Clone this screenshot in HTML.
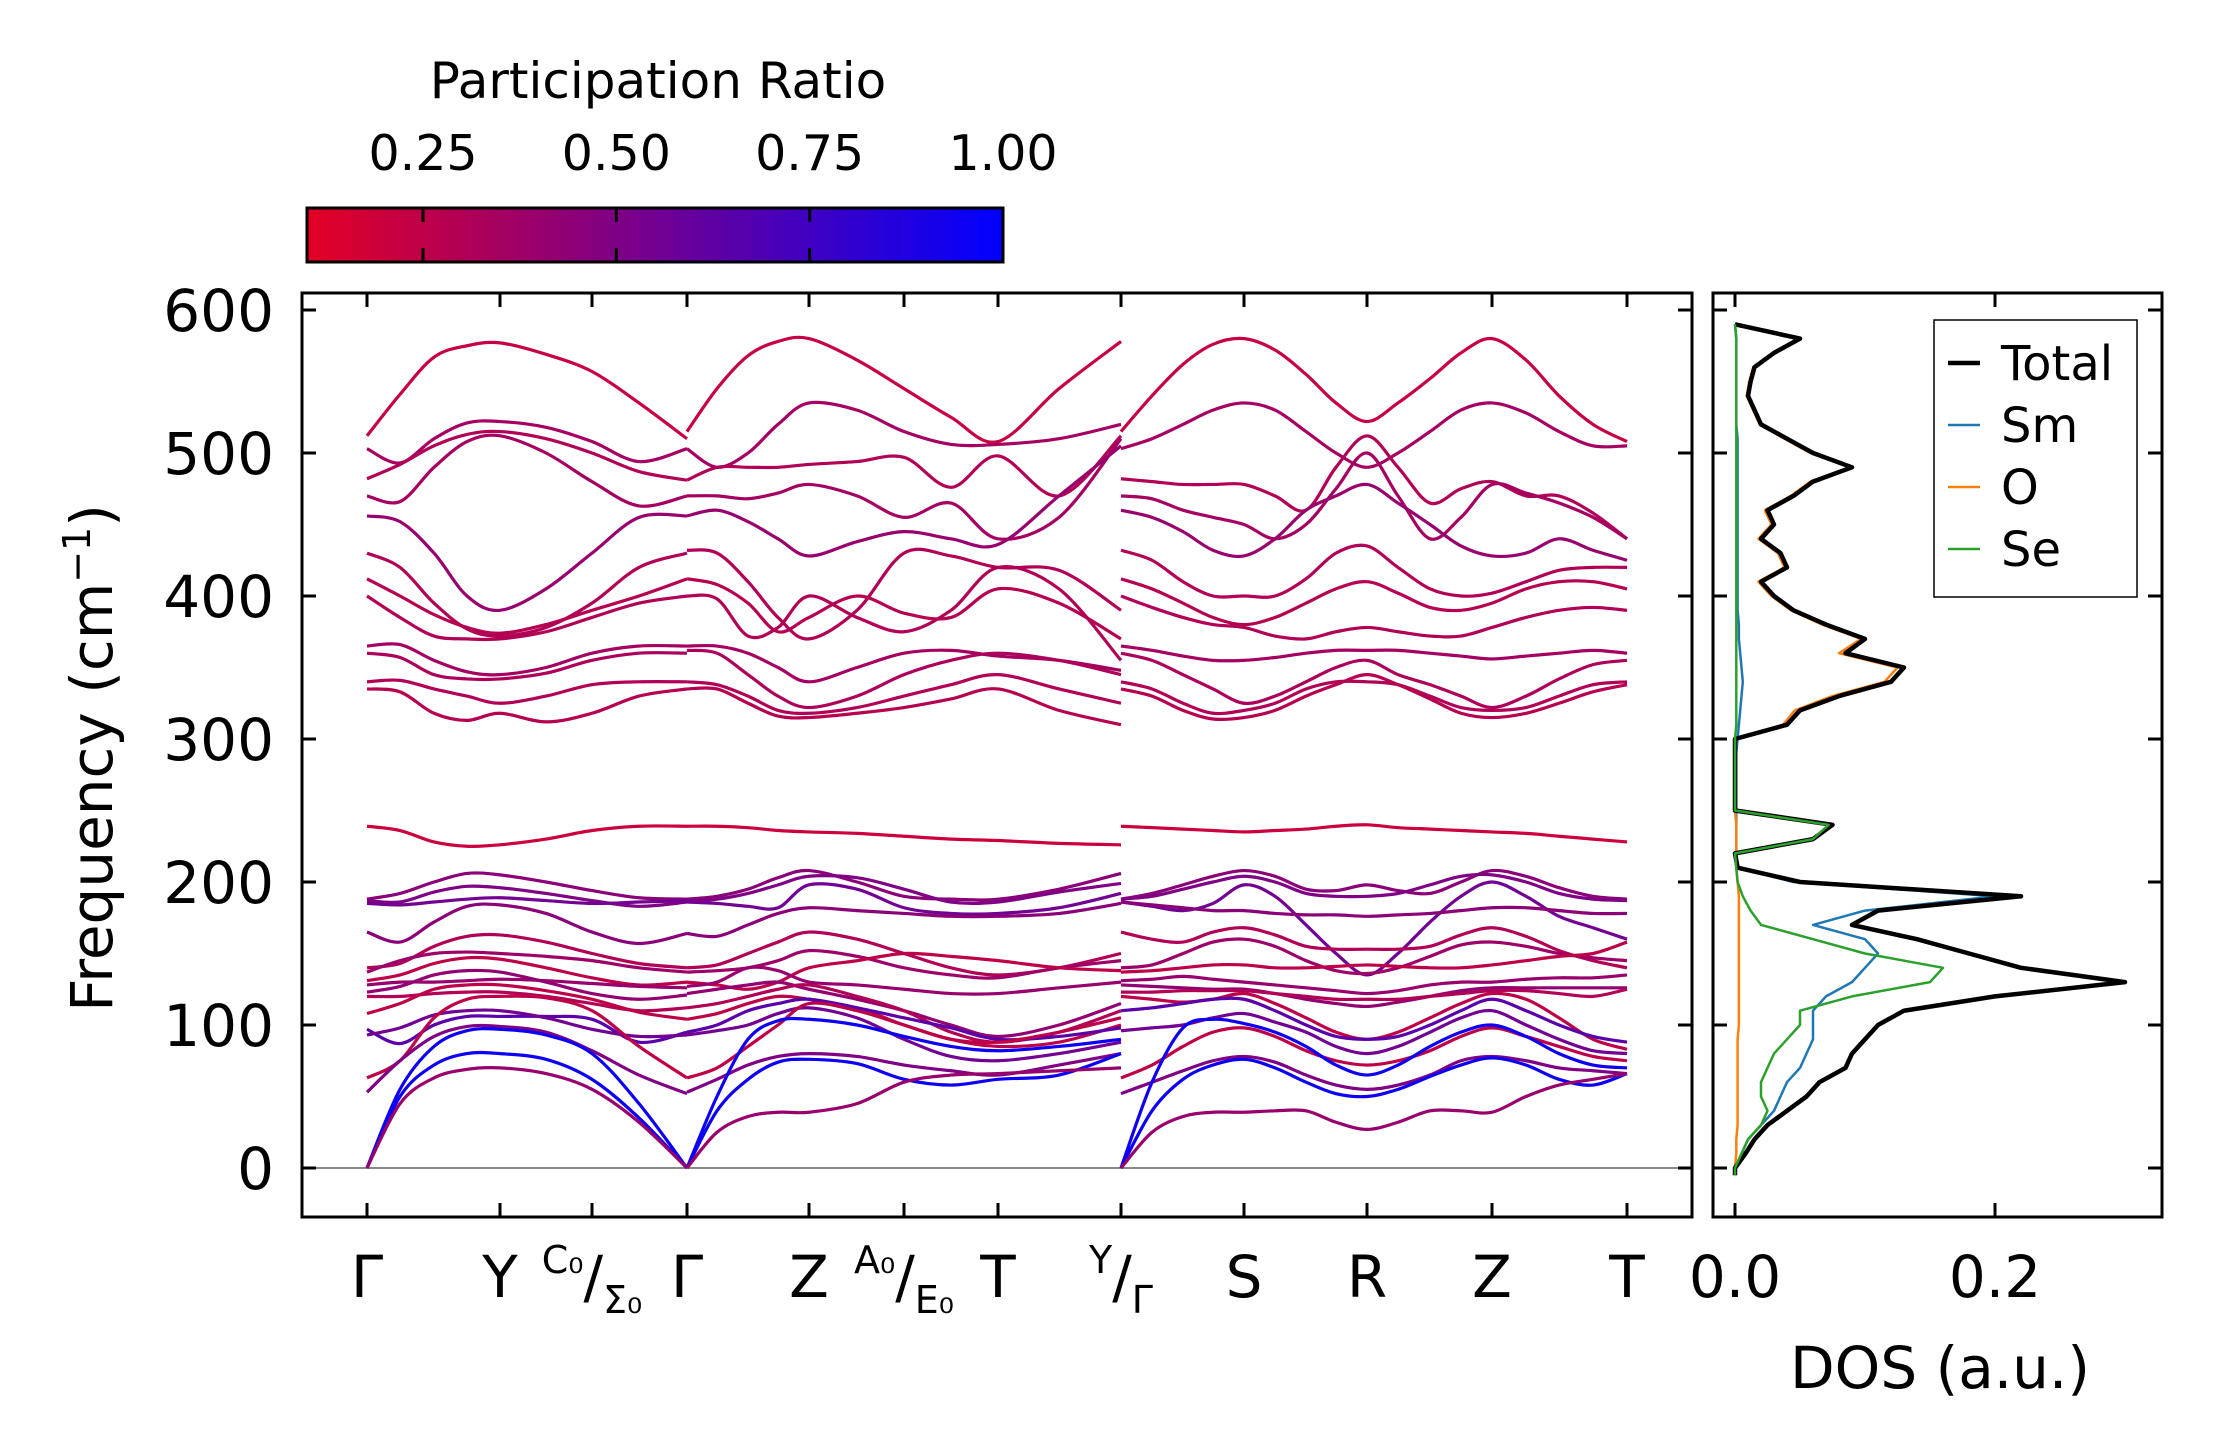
<!DOCTYPE html>
<html><head><meta charset="utf-8"><style>
html,body{margin:0;padding:0;background:#fff;}
svg{display:block;font-family:"DejaVu Sans","Liberation Sans",sans-serif;}
</style></head><body>
<svg id="fig" width="2222" height="1455" viewBox="0 0 2222 1455" xmlns="http://www.w3.org/2000/svg">
<defs><linearGradient id="cmap" x1="0" x2="1" y1="0" y2="0"><stop offset="0" stop-color="rgb(228,0,36)"/><stop offset="1" stop-color="rgb(0,0,255)"/></linearGradient>
<clipPath id="clipMain"><rect x="302" y="293" width="1390" height="924"/></clipPath>
<clipPath id="clipDos"><rect x="1713" y="293" width="449" height="924"/></clipPath></defs>
<g>
<text x="658" y="98" font-size="50" text-anchor="middle">Participation Ratio</text>
<rect x="307" y="208" width="696" height="54" fill="url(#cmap)" stroke="#000" stroke-width="3"/>
<g id="cbticks"></g>
</g>
<g id="mainAxes">
<line x1="302" x2="1692" y1="1168" y2="1168" stroke="#888" stroke-width="2"/>
<g id="bands" clip-path="url(#clipMain)"></g>
<rect x="302" y="293" width="1390" height="924" fill="none" stroke="#000" stroke-width="3"/>
<g id="mainTicks"></g>
<text transform="translate(112,758) rotate(-90)" font-size="58" text-anchor="middle">Frequency (cm<tspan font-size="38" dy="-22">−1</tspan><tspan dy="22">)</tspan></text>
</g>
<g id="dosAxes">
<g id="dosLines" clip-path="url(#clipDos)"></g>
<rect x="1713" y="293" width="449" height="924" fill="none" stroke="#000" stroke-width="3"/>
<g id="dosTicks"></g>
<text x="1940" y="1388" font-size="58" text-anchor="middle">DOS (a.u.)</text>
<g>
<rect x="1934" y="320" width="203" height="277" fill="#fff" stroke="#000" stroke-width="1.5"/>
<g id="legendEntries"></g>
</g>
</g>
</svg>
<script>
const NS="http://www.w3.org/2000/svg";
// ---- data ----
const cbTicks=[0.25,0.5,0.75,1.0];
const cbTickLabels=["0.25","0.50","0.75","1.00"];
const yTicks=[0,100,200,300,400,500,600];
const kTicks=[0,1.33,2.25,3.2,4.42,5.37,6.31,7.54,8.77,10.0,11.25,12.6];
const kLabels=["Γ","Y","C0/Σ0","Γ","Z","A0/E0","T","Y/Γ","S","R","Z","T"];
const kA=[0,0.33,0.67,1.0,1.33,1.79,2.25,2.72,3.2];
const kB=[3.2,3.5,3.81,4.11,4.42,4.9,5.37,5.84,6.31,6.92,7.54];
const kC=[7.54,7.85,8.16,8.46,8.77,9.08,9.39,9.69,10.0,10.31,10.63,10.94,11.25,11.59,11.92,12.26,12.6];
const bandsA=[
[512,541,567,575,577,569,557,535,510],
[503,493,510,521,522,518,508,494,503],
[482,492,505,513,515,510,500,487,481],
[470,466,490,508,512,500,480,463,470],
[456,452,430,400,390,405,430,455,456],
[430,420,395,377,372,378,395,420,430],
[412,400,387,378,374,380,390,400,412],
[400,385,372,370,370,375,385,395,400],
[365,366,355,347,345,350,360,365,365],
[360,357,345,342,342,346,355,360,360],
[340,341,335,330,325,330,338,340,340],
[335,333,318,313,318,312,318,330,335],
[239,236,228,225,226,230,236,239,239],
[188,192,200,206,205,200,194,189,188],
[187,186,193,197,196,192,187,183,186],
[185,184,186,188,189,187,185,186,187],
[165,158,172,183,184,178,165,157,164],
[140,143,155,162,163,158,150,143,140],
[137,145,150,151,150,148,145,140,137],
[131,135,143,147,146,140,133,128,130],
[128,130,130,131,132,131,129,127,126],
[123,127,135,138,137,130,122,118,121],
[120,120,122,123,123,120,115,110,112],
[108,115,125,128,128,124,118,109,104],
[97,87,100,106,106,106,104,88,95],
[93,98,107,110,110,105,97,92,93],
[63,75,105,118,120,119,110,85,63],
[53,75,92,99,99,95,82,65,52],
[0,55,85,96,97,93,80,45,0],
[0,50,72,80,80,76,62,35,0],
[0,45,63,69,70,66,55,32,0]];
const bandsB=[
[515,545,568,578,580,565,545,525,508,545,578],
[503,490,500,520,535,530,515,506,506,510,520],
[481,490,490,490,492,494,497,476,498,470,512],
[470,470,468,472,478,470,455,465,440,455,510],
[456,460,452,440,428,438,445,440,436,470,505],
[432,430,410,385,370,390,430,428,420,418,390],
[412,408,395,375,385,400,388,385,405,395,370],
[400,398,372,378,400,385,375,390,420,405,355],
[365,365,360,350,340,350,360,362,358,355,348],
[362,360,345,330,322,330,345,355,360,355,345],
[340,338,330,320,318,322,330,338,345,335,325],
[335,335,325,316,315,318,322,328,335,320,310],
[239,239,238,236,235,234,232,230,229,227,226],
[188,190,195,203,208,200,190,188,188,195,206],
[187,188,192,198,204,203,195,186,186,193,199],
[186,185,183,182,198,195,182,178,178,182,192],
[164,162,170,178,182,180,178,176,176,178,185],
[140,142,150,158,165,160,150,140,135,140,150],
[137,138,140,145,152,148,140,135,133,140,145],
[130,128,125,130,140,145,150,148,145,140,138],
[127,130,140,138,130,128,125,122,122,126,130],
[122,125,128,130,125,118,110,100,92,100,115],
[112,115,120,125,128,120,110,95,88,95,110],
[104,108,115,120,118,112,100,90,85,88,100],
[95,100,110,115,118,112,105,98,90,92,98],
[93,96,100,108,112,105,90,78,75,80,88],
[63,70,85,100,115,110,100,90,88,95,105],
[53,62,72,78,80,78,72,68,65,72,80],
[0,50,90,103,104,100,92,85,82,85,90],
[0,40,62,74,76,73,62,58,62,65,80],
[0,25,36,39,39,45,60,65,66,68,70]];
const bandsC=[
[515,540,562,576,580,572,555,535,522,535,552,570,580,565,540,520,508],
[503,510,520,530,535,530,515,500,490,500,515,530,535,528,515,505,505],
[482,480,478,478,478,470,460,490,512,490,465,475,480,470,470,458,440],
[470,468,460,455,450,440,450,475,500,470,440,455,478,472,465,455,440],
[460,455,445,432,428,440,460,470,478,465,450,435,428,430,440,432,425],
[432,425,410,400,400,400,412,430,435,420,405,400,402,410,418,420,420],
[412,405,395,385,380,385,395,405,410,402,392,390,395,405,410,410,405],
[400,392,385,380,378,372,370,375,378,375,372,372,378,385,390,392,390],
[365,362,358,355,355,357,360,362,362,362,360,358,356,358,360,362,360],
[360,355,345,335,325,330,340,350,355,345,338,330,322,330,342,352,355],
[340,335,325,318,320,325,335,340,340,338,330,322,320,322,330,338,340],
[335,330,320,314,315,320,330,338,345,338,328,318,315,318,325,333,338],
[239,238,237,236,235,236,237,239,240,238,237,236,235,234,232,230,228],
[188,192,198,204,208,204,195,194,198,194,192,200,208,204,196,190,188],
[188,190,195,200,204,200,192,190,190,192,198,204,205,200,192,188,187],
[186,183,180,185,198,190,170,150,135,150,172,190,200,190,176,168,160],
[186,184,182,180,180,178,177,177,176,177,178,180,182,182,180,178,178],
[165,160,158,165,168,163,155,153,153,153,155,163,168,162,152,145,140],
[140,142,150,158,160,155,145,138,136,140,148,156,158,155,150,147,145],
[137,138,140,142,142,140,140,141,142,141,140,140,142,145,148,150,158],
[131,132,134,132,130,128,126,124,122,124,128,130,130,132,133,133,135],
[128,127,126,125,125,122,118,115,113,116,120,124,126,126,126,126,126],
[123,123,124,124,124,122,120,118,118,118,120,122,124,124,122,120,125],
[120,118,116,118,122,115,105,95,90,95,105,115,122,118,105,90,83],
[110,112,115,118,118,110,100,92,90,92,100,110,118,110,100,92,88],
[96,98,100,105,108,102,95,85,80,85,95,105,110,100,90,82,80],
[63,72,85,95,98,92,82,75,72,75,82,92,98,92,85,78,75],
[52,60,68,75,78,74,65,58,55,58,65,75,78,75,70,68,66],
[0,60,98,104,101,95,85,72,65,72,85,95,100,92,80,72,70],
[0,40,62,72,76,70,60,52,50,55,64,72,77,72,62,58,66],
[0,25,36,39,39,40,40,32,27,32,40,40,39,50,58,62,66]];
const bandPR=[0.22,0.35,0.3,0.35,0.4,0.3,0.28,0.3,0.35,0.32,0.3,0.28,0.2,0.45,0.5,0.55,0.45,0.3,0.38,0.25,0.4,0.42,0.3,0.25,0.65,0.55,0.25,0.5,0.95,0.95,0.4];
const dosFreq=[0,10,20,30,40,50,60,70,80,90,100,110,120,130,140,150,160,170,180,190,200,210,220,230,240,250,260,270,280,290,300,310,320,330,340,350,360,370,380,390,400,410,420,430,440,450,460,470,480,490,500,510,520,530,540,550,560,570,580,590];
const dosTotal=[0,0.008,0.015,0.025,0.04,0.055,0.065,0.085,0.09,0.1,0.11,0.13,0.2,0.3,0.22,0.18,0.14,0.09,0.11,0.22,0.05,0.002,0,0.06,0.075,0,0,0,0,0,0,0.04,0.05,0.08,0.12,0.13,0.085,0.1,0.07,0.045,0.03,0.02,0.04,0.035,0.02,0.03,0.025,0.045,0.06,0.09,0.06,0.04,0.02,0.015,0.01,0.012,0.015,0.03,0.05,0];
const dosSm=[0,0.005,0.01,0.02,0.03,0.035,0.04,0.05,0.055,0.06,0.06,0.06,0.07,0.09,0.1,0.11,0.1,0.06,0.1,0.2,0.045,0.002,0.001,0.001,0.001,0.001,0.001,0.001,0.001,0.001,0.002,0.003,0.004,0.005,0.006,0.005,0.004,0.003,0.003,0.002,0.002,0.002,0.002,0.002,0.002,0.002,0.002,0.002,0.002,0.002,0.002,0.002,0.001,0.001,0.001,0.001,0.001,0.001,0.001,0];
const dosO=[0,0.001,0.001,0.002,0.002,0.002,0.002,0.002,0.002,0.002,0.003,0.003,0.003,0.003,0.003,0.003,0.003,0.003,0.003,0.003,0.002,0.001,0.001,0.001,0.001,0,0,0,0,0,0,0.037,0.046,0.075,0.115,0.125,0.08,0.097,0.067,0.043,0.028,0.018,0.038,0.033,0.018,0.028,0.023,0.043,0.058,0.088,0.058,0.038,0.019,0.014,0.009,0.011,0.014,0.029,0.049,0];
const dosSe=[0,0.005,0.01,0.02,0.025,0.02,0.02,0.025,0.03,0.04,0.05,0.05,0.09,0.15,0.16,0.1,0.06,0.02,0.012,0.006,0.002,0.001,0,0.06,0.072,0,0,0,0,0,0,0.001,0.001,0.001,0.001,0.001,0.001,0.001,0.001,0.001,0.001,0.001,0.001,0.001,0.001,0.001,0.001,0.001,0.001,0.001,0.001,0.001,0.001,0.001,0.001,0.001,0.001,0.001,0.001,0];
const legendNames=["Total","Sm","O","Se"];
const legendColors=["#000","#1f77b4","#ff7f0e","#2ca02c"];
// ---- scales ----
function yS(f){return 1168-f*1.43;}
function xK(k){return 367+k*100;}
function xD(d){return 1735+d*1300;}
function xCb(v){return 307+(v-0.1)/0.9*696;}
function prColor(p){const t=Math.max(0,Math.min(1,(p-0.1)/0.9));return `rgb(${Math.round(228*(1-t))},0,${Math.round(36+219*t)})`;}
function mk(tag,parent,attrs){const e=document.createElementNS(NS,tag);for(const a in attrs)e.setAttribute(a,attrs[a]);parent.appendChild(e);return e;}
function smoothPath(pts){let d=`M${pts[0][0]},${pts[0][1]}`;for(let i=0;i<pts.length-1;i++){const p0=pts[Math.max(0,i-1)],p1=pts[i],p2=pts[i+1],p3=pts[Math.min(pts.length-1,i+2)];const c1x=p1[0]+(p2[0]-p0[0])/6,c1y=p1[1]+(p2[1]-p0[1])/6,c2x=p2[0]-(p3[0]-p1[0])/6,c2y=p2[1]-(p3[1]-p1[1])/6;d+=` C${c1x},${c1y} ${c2x},${c2y} ${p2[0]},${p2[1]}`;}return d;}
// colorbar ticks
const cbg=document.getElementById('cbticks');
cbTicks.forEach((v,i)=>{const x=xCb(v);
 if(v<1){const l=mk('line',cbg,{x1:x,x2:x,y1:208,y2:262,stroke:'#000','stroke-width':3,'stroke-dasharray':'14 26'});
 }
 const t=mk('text',cbg,{x:x,y:170,'font-size':49,'text-anchor':'middle'});t.textContent=cbTickLabels[i];
 });
// bands
const bg=document.getElementById('bands');
[[kA,bandsA],[kB,bandsB],[kC,bandsC]].forEach(([ks,bands],si)=>{bands.forEach((vals,bi)=>{
 const pts=vals.map((v,j)=>[xK(ks[j]),yS(v)]);
 const p=mk('path',bg,{d:smoothPath(pts),fill:'none',stroke:prColor(bandPR[bi]),'stroke-width':3.2,'stroke-linecap':'butt'});
 });});
// main ticks
const mt=document.getElementById('mainTicks');
function dosTicksG(){return document.getElementById('dosTicks');}
yTicks.forEach(v=>{const y=yS(v);
 mk('line',mt,{x1:302,x2:316,y1:y,y2:y,stroke:'#000','stroke-width':3});
 mk('line',mt,{x1:1678,x2:1692,y1:y,y2:y,stroke:'#000','stroke-width':3});
 mk('line',dosTicksG(),{x1:1713,x2:1727,y1:y,y2:y,stroke:'#000','stroke-width':3});
 mk('line',dosTicksG(),{x1:2148,x2:2162,y1:y,y2:y,stroke:'#000','stroke-width':3});
 const t=mk('text',mt,{x:274,y:y+21,'font-size':58,'text-anchor':'end'});t.textContent=String(v);
 });
kTicks.forEach((k,i)=>{const x=xK(k);
 mk('line',mt,{x1:x,x2:x,y1:1203,y2:1217,stroke:'#000','stroke-width':3});
 mk('line',mt,{x1:x,x2:x,y1:293,y2:307,stroke:'#000','stroke-width':3});
 const lab=kLabels[i];const t=mk('text',mt,{x:x,y:1297,'font-size':58,'text-anchor':'middle'});
 if(lab.includes('/')){const [a,b]=lab.split('/');
  const s1=mk('tspan',t,{'font-size':38,dy:-24});s1.textContent=a.replace('0','₀');
  const s2=mk('tspan',t,{dy:24});s2.textContent='/';
  const s3=mk('tspan',t,{'font-size':38,dy:16});s3.textContent=b.replace('0','₀');}
 else t.textContent=lab;
 });
// DOS
const dg=document.getElementById('dosLines');
[[dosSm,1,2.5],[dosO,2,2.5],[dosTotal,0,4.5],[dosSe,3,2.5]].forEach(([arr,ci,w])=>{
 const pts=dosFreq.map((f,j)=>[xD(arr[j]),yS(f)]);pts.unshift([xD(0),yS(-5)]);
 const p=mk('path',dg,{d:'M'+pts.map(q=>q[0].toFixed(1)+','+q[1].toFixed(1)).join(' L'),fill:'none',stroke:legendColors[ci],'stroke-width':w,'stroke-linejoin':'round'});
 });
const dt=dosTicksG();
[0,0.2].forEach(d=>{const x=xD(d);
 mk('line',dt,{x1:x,x2:x,y1:1203,y2:1217,stroke:'#000','stroke-width':3});
 mk('line',dt,{x1:x,x2:x,y1:293,y2:307,stroke:'#000','stroke-width':3});
 const t=mk('text',dt,{x:x,y:1297,'font-size':58,'text-anchor':'middle'});t.textContent=d.toFixed(1);
 });
const lg=document.getElementById('legendEntries');
legendNames.forEach((n,i)=>{const y=363+i*62;
 const l=mk('line',lg,{x1:1948,x2:1980,y1:y,y2:y,stroke:legendColors[i],'stroke-width':i==0?4.5:2.5});
 
 const t=mk('text',lg,{x:2001,y:y+17,'font-size':48});t.textContent=n;
 });
</script>
</body></html>
